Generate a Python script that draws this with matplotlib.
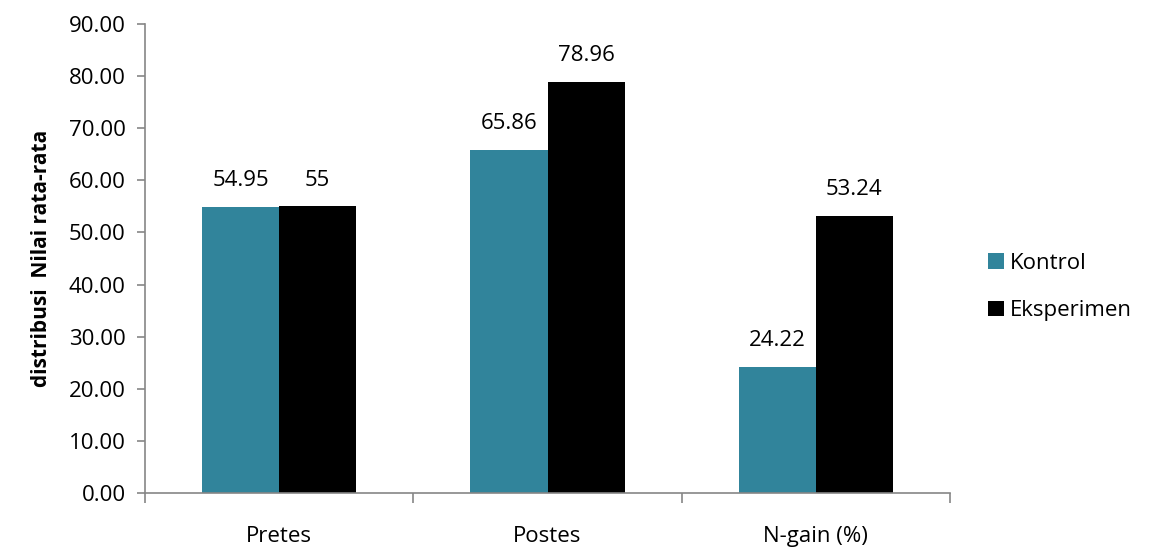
import matplotlib
matplotlib.use("Agg")
import matplotlib.pyplot as plt
import numpy as np

categories = ["Pretes", "Postes", "N-gain (%)"]
kontrol = [54.95, 65.86, 24.22]
eksperimen = [55.00, 78.96, 53.24]
kontrol_labels = ["54.95", "65.86", "24.22"]
eksperimen_labels = ["55", "78.96", "53.24"]
y_ticks = [0, 10, 20, 30, 40, 50, 60, 70, 80, 90]

plt.rcParams['font.family'] = ['Open Sans', 'DejaVu Sans']

fig = plt.figure(figsize=(11.52, 5.52), dpi=100)
ax = fig.add_axes([145 / 1152, 1 - 493 / 552, (950 - 145) / 1152, (493 - 24) / 552])

x = np.arange(len(categories))
w = 0.287
teal = "#31849B"
b1 = ax.bar(x - w / 2, kontrol, w, color=teal, label="Kontrol")
b2 = ax.bar(x + w / 2, eksperimen, w, color="black", label="Eksperimen")

for rect, txt in zip(b1, kontrol_labels):
    ax.text(rect.get_x() + rect.get_width() / 2, rect.get_height() + 3.0, txt,
            ha="center", va="bottom", fontsize=16)
for rect, txt in zip(b2, eksperimen_labels):
    ax.text(rect.get_x() + rect.get_width() / 2, rect.get_height() + 3.0, txt,
            ha="center", va="bottom", fontsize=16)

ax.set_xlim(-0.5, len(categories) - 0.5)
ax.set_ylim(0, 90)
ax.set_yticks(y_ticks)
ax.set_yticklabels([f"{v:.2f}" for v in y_ticks], fontsize=16)
ax.set_xticks(x)
ax.set_xticklabels(categories, fontsize=16)
ax.tick_params(axis="x", length=0, pad=24)
ax.tick_params(axis="y", length=6, width=1.2, color="#868686", pad=8)

# category boundary ticks on the x axis
ax.set_xticks(np.arange(-0.5, len(categories)), minor=True)
ax.tick_params(axis="x", which="minor", length=7, width=1.2, color="#868686")

for s in ["top", "right"]:
    ax.spines[s].set_visible(False)
for s in ["left", "bottom"]:
    ax.spines[s].set_color("#868686")
    ax.spines[s].set_linewidth(1.2)

ax.set_ylabel("distribusi  Nilai rata-rata", fontsize=15, fontweight="bold", labelpad=12)

fig.legend(loc="center left", bbox_to_anchor=(968 / 1152, 1 - 287 / 552), frameon=False,
           fontsize=16, handlelength=0.7, handleheight=0.7, handletextpad=0.3,
           labelspacing=1.2)

fig.savefig("out.png", dpi=100)
